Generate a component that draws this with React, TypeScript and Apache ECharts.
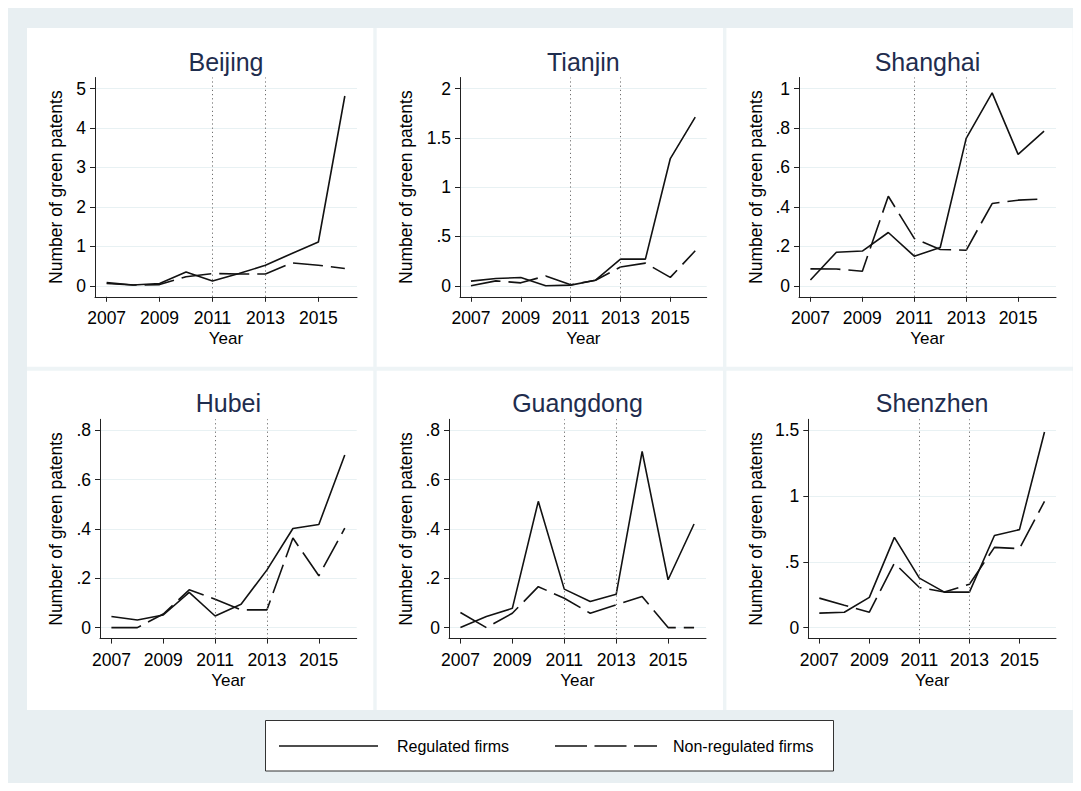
import React, { useEffect, useRef } from 'react';
import * as echarts from 'echarts';

const years = [2007, 2008, 2009, 2010, 2011, 2012, 2013, 2014, 2015, 2016];
const xTickValues = [2007, 2009, 2011, 2013, 2015];
const policyYears = [2011, 2013];
const seriesNames = ['Regulated firms', 'Non-regulated firms'];
const cityNames = ['Beijing', 'Tianjin', 'Shanghai', 'Hubei', 'Guangdong', 'Shenzhen'];

const beijingRegulated = [0.08, 0.02, 0.06, 0.35, 0.12, 0.31, 0.52, 0.82, 1.11, 4.81];
const beijingNonRegulated = [0.06, 0.02, 0.03, 0.23, 0.31, 0.3, 0.3, 0.58, 0.52, 0.44];
const tianjinRegulated = [0.047, 0.074, 0.084, 0.0, 0.007, 0.057, 0.27, 0.27, 1.29, 1.71];
const tianjinNonRegulated = [0.0, 0.05, 0.03, 0.1, 0.01, 0.057, 0.19, 0.23, 0.085, 0.355];
const shanghaiRegulated = [0.029, 0.17, 0.176, 0.27, 0.15, 0.194, 0.747, 0.978, 0.666, 0.784];
const shanghaiNonRegulated = [0.086, 0.085, 0.074, 0.454, 0.24, 0.184, 0.18, 0.417, 0.434, 0.44];
const hubeiRegulated = [0.045, 0.031, 0.051, 0.143, 0.047, 0.095, 0.234, 0.402, 0.418, 0.7];
const hubeiNonRegulated = [0.0, 0.0, 0.055, 0.153, 0.115, 0.072, 0.072, 0.363, 0.21, 0.403];
const guangdongRegulated = [0.0, 0.045, 0.078, 0.512, 0.156, 0.106, 0.135, 0.714, 0.194, 0.42];
const guangdongNonRegulated = [0.061, 0.0, 0.058, 0.166, 0.119, 0.058, 0.092, 0.126, 0.0, 0.0];
const shenzhenRegulated = [0.11, 0.117, 0.23, 0.686, 0.376, 0.27, 0.27, 0.7, 0.745, 1.487];
const shenzhenNonRegulated = [0.224, 0.17, 0.117, 0.49, 0.305, 0.27, 0.33, 0.61, 0.6, 0.96];

const yTicksBeijing = [0, 1, 2, 3, 4, 5];
const yTicksTianjin = [0, 0.5, 1, 1.5, 2];
const yTicksShanghai = [0, 0.2, 0.4, 0.6, 0.8, 1];
const yTicksHubei = [0, 0.2, 0.4, 0.6, 0.8];
const yTicksGuangdong = [0, 0.2, 0.4, 0.6, 0.8];
const yTicksShenzhen = [0, 0.5, 1, 1.5];

const regulatedByCity = [beijingRegulated, tianjinRegulated, shanghaiRegulated, hubeiRegulated, guangdongRegulated, shenzhenRegulated];
const nonRegulatedByCity = [beijingNonRegulated, tianjinNonRegulated, shanghaiNonRegulated, hubeiNonRegulated, guangdongNonRegulated, shenzhenNonRegulated];
const yTicksByCity = [yTicksBeijing, yTicksTianjin, yTicksShanghai, yTicksHubei, yTicksGuangdong, yTicksShenzhen];

const FONT = "'Liberation Sans', Arial, Helvetica, sans-serif";
const LINE = '#121212';
const DASH = [30, 8];

const layout = [
  { left: 87, top: 69.5, width: 262, nameGap: 30 },
  { left: 452, top: 69.5, width: 246.7, nameGap: 45 },
  { left: 791, top: 69.5, width: 257, nameGap: 34.5 },
  { left: 92, top: 411.3, width: 256.7, nameGap: 35 },
  { left: 441, top: 411.3, width: 257, nameGap: 34 },
  { left: 800.3, top: 411.3, width: 247.7, nameGap: 43 },
];
const PLOT_H = 219.3;

const fmtY = (v: number) => {
  const s = String(+Number(v).toFixed(2));
  return s.startsWith('0.') ? s.slice(1) : s;
};

function buildOption() {
  const grid: any[] = [];
  const xAxis: any[] = [];
  const yAxis: any[] = [];
  const series: any[] = [];
  const graphic: any[] = [];

  graphic.push({ type: 'rect', z: -20, shape: { x: 19, y: 20, width: 1045.7, height: 682 }, style: { fill: '#eef4f6' } });
  const colX = [19, 368.7, 718.4];
  const rowY = [20, 362.7];
  const rowH = [338.7, 339.3];
  for (let r = 0; r < 2; r++) {
    for (let c = 0; c < 3; c++) {
      graphic.push({ type: 'rect', z: -10, shape: { x: colX[c], y: rowY[r], width: 346.3, height: rowH[r] }, style: { fill: '#ffffff' } });
    }
  }

  cityNames.forEach((city, i) => {
    const L = layout[i];
    const ticks = yTicksByCity[i];
    const top = ticks[ticks.length - 1];
    grid.push({ left: L.left, top: L.top, width: L.width, height: PLOT_H, containLabel: false });
    xAxis.push({
      type: 'value', gridIndex: i, min: 2006.56, max: 2016.46,
      name: 'Year', nameLocation: 'middle', nameGap: 33,
      nameTextStyle: { fontFamily: FONT, fontSize: 17, color: '#000' },
      axisLine: { show: true, onZero: false, lineStyle: { color: '#222', width: 1 } },
      axisTick: { show: true, length: 5, customValues: xTickValues, lineStyle: { color: '#222' } },
      axisLabel: { customValues: xTickValues, margin: 12, fontFamily: FONT, fontSize: 17.5, color: '#000', formatter: (v: number) => String(v) },
      splitLine: { show: false },
    });
    yAxis.push({
      type: 'value', gridIndex: i, min: -0.0558 * top, max: 1.0558 * top,
      name: 'Number of green patents', nameLocation: 'middle', nameGap: L.nameGap,
      nameTextStyle: { fontFamily: FONT, fontSize: 17.5, color: '#000' },
      axisLine: { show: true, onZero: false, lineStyle: { color: '#222', width: 1 } },
      axisTick: { show: true, length: 5, customValues: ticks, lineStyle: { color: '#222' } },
      axisLabel: { customValues: ticks, margin: 9, fontFamily: FONT, fontSize: 17.5, color: '#000', formatter: fmtY },
      splitLine: { show: true, lineStyle: { color: '#e8f1f3', width: 1.2 } },
    });
    series.push({
      type: 'line', name: seriesNames[0], xAxisIndex: i, yAxisIndex: i,
      data: years.map((y, k) => [y, regulatedByCity[i][k]]),
      symbol: 'none', silent: true, z: 3,
      lineStyle: { color: LINE, width: 1.6 },
      markLine: {
        silent: true, symbol: 'none', label: { show: false },
        lineStyle: { color: '#6e6e6e', type: [1.2, 3], width: 1 },
        data: policyYears.map((y) => ({ xAxis: y })),
      },
    });
    series.push({
      type: 'line', name: seriesNames[1], xAxisIndex: i, yAxisIndex: i,
      data: years.map((y, k) => [y, nonRegulatedByCity[i][k]]),
      symbol: 'none', silent: true, z: 3,
      lineStyle: { color: LINE, width: 1.6, type: DASH },
    });
    graphic.push({
      type: 'text', z: 10,
      x: L.left + L.width / 2, y: i < 3 ? 53.7 : 394.7,
      style: { text: city, fontFamily: FONT, fontSize: 25, fill: '#1f2d4e', align: 'center', verticalAlign: 'middle' },
    });
  });

  graphic.push({ type: 'rect', z: 5, shape: { x: 257.5, y: 712.5, width: 568, height: 50.5 }, style: { fill: '#fff', stroke: '#333', lineWidth: 1 } });
  graphic.push({ type: 'line', z: 6, shape: { x1: 271, y1: 738, x2: 370, y2: 738 }, style: { stroke: LINE, lineWidth: 1.6 } });
  graphic.push({ type: 'text', z: 6, x: 389, y: 738, style: { text: seriesNames[0], fontFamily: FONT, fontSize: 16, fill: '#000', align: 'left', verticalAlign: 'middle' } });
  graphic.push({ type: 'line', z: 6, shape: { x1: 547, y1: 738, x2: 649, y2: 738 }, style: { stroke: LINE, lineWidth: 1.6, lineDash: [32, 7.5] } });
  graphic.push({ type: 'text', z: 6, x: 665, y: 738, style: { text: seriesNames[1], fontFamily: FONT, fontSize: 16, fill: '#000', align: 'left', verticalAlign: 'middle' } });

  return {
    animation: false,
    backgroundColor: '#e8eff2',
    grid, xAxis, yAxis, series,
    graphic: { elements: graphic },
  };
}

export default function App() {
  const ref = useRef<HTMLDivElement>(null);
  useEffect(() => {
    if (!ref.current) return;
    const chart = echarts.init(ref.current, undefined, { renderer: 'svg' });
    chart.setOption(buildOption() as any);
    return () => chart.dispose();
  }, []);
  return <div ref={ref} style={{ width: 1073, height: 783, marginBottom: -8 }} />;
}
